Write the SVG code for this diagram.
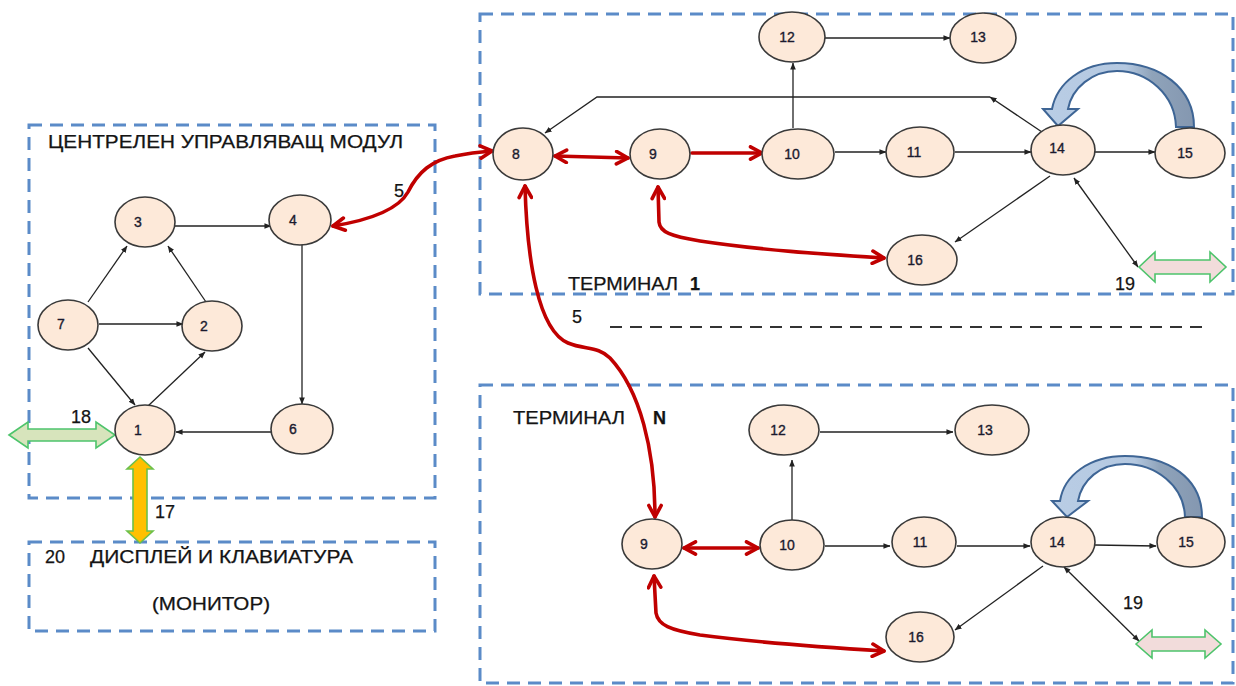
<svg xmlns="http://www.w3.org/2000/svg" width="1236" height="686" viewBox="0 0 1236 686">
<style>
.box{fill:none;stroke:#5B8BC8;stroke-width:3;stroke-dasharray:13 8}
.nd{fill:#FDE9D9;stroke:#3A3A3A;stroke-width:1.6}
.lb{font-family:"Liberation Sans",Arial,sans-serif;font-size:14px;fill:#1A1A2E;stroke:#1A1A2E;stroke-width:0.35;text-anchor:middle}
.t{font-family:"Liberation Sans",Arial,sans-serif;font-size:18px;fill:#141414;stroke:#141414;stroke-width:0.25}
.bk{fill:none;stroke:#222;stroke-width:1.3;marker-end:url(#blk)}
.rd{fill:none;stroke:#C00000;stroke-width:3.6;stroke-linecap:round}
</style>
<defs>
<marker id="blk" viewBox="0 0 8 8" refX="7.5" refY="4" markerWidth="7" markerHeight="7" markerUnits="userSpaceOnUse" orient="auto-start-reverse"><path d="M0,0.8 L8,4 L0,7.2 Z" fill="#222"/></marker>
<marker id="red" viewBox="0 0 16 16" refX="14" refY="8" markerWidth="16" markerHeight="16" markerUnits="userSpaceOnUse" orient="auto-start-reverse"><path d="M2.5,1.8 L14,8 L2.5,14.2" fill="none" stroke="#C00000" stroke-width="3.6" stroke-linecap="round" stroke-linejoin="round"/></marker>
<linearGradient id="bl" x1="0" y1="0" x2="1" y2="0"><stop offset="0" stop-color="#B9CDE5"/><stop offset="0.55" stop-color="#B4C8E0"/><stop offset="0.72" stop-color="#8FA3BA"/><stop offset="1" stop-color="#8497B0"/></linearGradient>
</defs>

<g id="boxes">
<rect class="box" x="29" y="125" width="406" height="373"/>
<rect class="box" x="29" y="542" width="406" height="89"/>
<rect class="box" x="480" y="14" width="753" height="280"/>
<rect class="box" x="480" y="385" width="753" height="298"/>
<line x1="610" y1="327" x2="1210" y2="327" stroke="#333" stroke-width="2" stroke-dasharray="12 8"/>
</g>

<g id="connectors">
<!-- central module -->
<line class="bk" x1="175" y1="226" x2="271" y2="226"/>
<line class="bk" x1="88" y1="302" x2="127" y2="246"/>
<line class="bk" x1="206" y1="302" x2="168" y2="246"/>
<line class="bk" x1="99" y1="324" x2="183" y2="324"/>
<line class="bk" x1="88" y1="348" x2="135" y2="405"/>
<line class="bk" x1="148" y1="406" x2="205" y2="352"/>
<line class="bk" x1="302" y1="245" x2="302" y2="404"/>
<line class="bk" x1="272" y1="432" x2="176" y2="432"/>
<!-- terminal 1 -->
<line class="bk" x1="793" y1="128" x2="793" y2="63"/>
<line class="bk" x1="822" y1="38" x2="950" y2="38"/>
<line class="bk" x1="835" y1="152" x2="886" y2="152"/>
<line class="bk" x1="955" y1="152" x2="1031" y2="152"/>
<line class="bk" x1="1095" y1="152" x2="1155" y2="152"/>
<line class="bk" x1="1042" y1="132" x2="990" y2="97"/>
<polyline class="bk" points="990,97 597,97 545,133"/>
<line class="bk" x1="1050" y1="176" x2="955" y2="242"/>
<line class="bk" x1="1074" y1="178" x2="1138" y2="267" marker-start="url(#blk)"/>
<!-- terminal N -->
<line class="bk" x1="792" y1="520" x2="792" y2="460"/>
<line class="bk" x1="820" y1="432" x2="953" y2="432"/>
<line class="bk" x1="825" y1="546" x2="890" y2="546"/>
<line class="bk" x1="957" y1="546" x2="1030" y2="546"/>
<line class="bk" x1="1095" y1="545" x2="1156" y2="546"/>
<line class="bk" x1="1043" y1="566" x2="955" y2="630"/>
<line class="bk" x1="1064" y1="567" x2="1139" y2="641" marker-start="url(#blk)"/>
<!-- red links -->
<path class="rd" d="M333,226 C370,220 398,210 408,192 C418,172 432,160 455,156 C470,153 480,152 492,151" marker-start="url(#red)" marker-end="url(#red)"/>
<path class="rd" d="M555,156 L628,158" marker-start="url(#red)" marker-end="url(#red)"/>
<path class="rd" d="M692,153 L762,153" marker-end="url(#red)"/>
<path class="rd" d="M658,187 L659,222 C660,232 670,236 700,241 C760,250 820,254 884,258" marker-start="url(#red)" marker-end="url(#red)"/>
<path class="rd" d="M525,186 C527,260 538,330 568,343 C585,350 598,346 610,358 C640,390 655,450 655,517" marker-start="url(#red)" marker-end="url(#red)"/>
<path class="rd" d="M684,548 L758,548" marker-start="url(#red)" marker-end="url(#red)"/>
<path class="rd" d="M654,576 L656,613 C658,625 670,630 700,635 C760,643 820,647 884,651" marker-start="url(#red)" marker-end="url(#red)"/>
<!-- block arrows -->
<path d="M9,435 L28,422 L28,429 L96,429 L96,422 L115,435 L96,448 L96,441 L28,441 L28,448 Z" fill="#D7E4BC" stroke="#4EC46C" stroke-width="1.6"/>
<path d="M140,457 L153,469 L147,469 L147,531 L153,531 L140,543 L127,531 L133,531 L133,469 L127,469 Z" fill="#FFC000" stroke="#6CC04A" stroke-width="1.6"/>
<path d="M1139,267 L1155,252 L1155,260 L1210,260 L1210,252 L1226,267 L1210,282 L1210,274 L1155,274 L1155,282 Z" fill="#F2DCDB" stroke="#4EC46C" stroke-width="1.6"/>
<path d="M1136,644 L1152,630 L1152,637 L1205,637 L1205,630 L1221,644 L1205,658 L1205,651 L1152,651 L1152,658 Z" fill="#F2DCDB" stroke="#4EC46C" stroke-width="1.6"/>
<path d="M1194,127 C1194,88 1160,63 1117,63 C1082,63 1057,83 1052,109 L1043,109 L1058,126 L1078,109 L1068,109 C1072,88 1092,71 1117,71 C1148,71 1175,95 1176,127 Z" fill="url(#bl)" stroke="#3E6595" stroke-width="2"/>
<path d="M1202,517 C1202,478 1168,456 1125,456 C1090,456 1064,475 1060,501 L1052,501 L1067,517 L1088,501 L1078,501 C1082,480 1100,464 1125,464 C1155,464 1184,485 1185,517 Z" fill="url(#bl)" stroke="#3E6595" stroke-width="2"/>
</g>

<g id="n3"><ellipse class="nd" cx="145" cy="222" rx="30" ry="25"/><text class="lb" x="138" y="227">3</text></g>
<g id="n4"><ellipse class="nd" cx="300" cy="220" rx="31" ry="25"/><text class="lb" x="293" y="225">4</text></g>
<g id="n7"><ellipse class="nd" cx="68" cy="325" rx="30" ry="25"/><text class="lb" x="61" y="329">7</text></g>
<g id="n2"><ellipse class="nd" cx="212" cy="326" rx="30" ry="25"/><text class="lb" x="204" y="331">2</text></g>
<g id="n1"><ellipse class="nd" cx="145" cy="430" rx="30" ry="25"/><text class="lb" x="138" y="435">1</text></g>
<g id="n6"><ellipse class="nd" cx="302" cy="429" rx="31" ry="25"/><text class="lb" x="293" y="434">6</text></g>

<g id="t1-12"><ellipse class="nd" cx="792" cy="37" rx="33" ry="25"/><text class="lb" x="787" y="42">12</text></g>
<g id="t1-13"><ellipse class="nd" cx="983" cy="38" rx="33" ry="25"/><text class="lb" x="978" y="42">13</text></g>
<g id="t1-8"><ellipse class="nd" cx="523" cy="154" rx="30" ry="26"/><text class="lb" x="516" y="159">8</text></g>
<g id="t1-9"><ellipse class="nd" cx="660" cy="154" rx="30" ry="25"/><text class="lb" x="653" y="159">9</text></g>
<g id="t1-10"><ellipse class="nd" cx="798" cy="154" rx="36" ry="25"/><text class="lb" x="792" y="159">10</text></g>
<g id="t1-11"><ellipse class="nd" cx="920" cy="152" rx="34" ry="25"/><text class="lb" x="914" y="157">11</text></g>
<g id="t1-14"><ellipse class="nd" cx="1063" cy="150" rx="32" ry="25"/><text class="lb" x="1057" y="153">14</text></g>
<g id="t1-15"><ellipse class="nd" cx="1190" cy="153" rx="35" ry="25"/><text class="lb" x="1185" y="158">15</text></g>
<g id="t1-16"><ellipse class="nd" cx="922" cy="260" rx="35" ry="25"/><text class="lb" x="915" y="265">16</text></g>

<g id="tn-12"><ellipse class="nd" cx="784" cy="430" rx="35" ry="25"/><text class="lb" x="778" y="435">12</text></g>
<g id="tn-13"><ellipse class="nd" cx="992" cy="430" rx="37" ry="25"/><text class="lb" x="985" y="435">13</text></g>
<g id="tn-9"><ellipse class="nd" cx="652" cy="544" rx="30" ry="25"/><text class="lb" x="644" y="549">9</text></g>
<g id="tn-10"><ellipse class="nd" cx="792" cy="545" rx="32" ry="25"/><text class="lb" x="787" y="550">10</text></g>
<g id="tn-11"><ellipse class="nd" cx="924" cy="542" rx="32" ry="25"/><text class="lb" x="920" y="547">11</text></g>
<g id="tn-14"><ellipse class="nd" cx="1063" cy="542" rx="32" ry="25"/><text class="lb" x="1057" y="547">14</text></g>
<g id="tn-15"><ellipse class="nd" cx="1191" cy="542" rx="34" ry="25"/><text class="lb" x="1186" y="547">15</text></g>
<g id="tn-16"><ellipse class="nd" cx="920" cy="637" rx="34" ry="25"/><text class="lb" x="916" y="642">16</text></g>

<g id="labels">
<text class="t" x="48" y="148" textLength="355" lengthAdjust="spacingAndGlyphs">ЦЕНТРЕЛЕН УПРАВЛЯВАЩ МОДУЛ</text>
<text class="t" x="568" y="290" textLength="110" lengthAdjust="spacingAndGlyphs">ТЕРМИНАЛ</text>
<text class="t" x="690" y="290" font-weight="bold">1</text>
<text class="t" x="513" y="424" textLength="112" lengthAdjust="spacingAndGlyphs">ТЕРМИНАЛ</text>
<text class="t" x="653" y="424" font-weight="bold">N</text>
<text class="t" x="45" y="563">20</text>
<text class="t" x="90" y="563" textLength="263" lengthAdjust="spacingAndGlyphs">ДИСПЛЕЙ И КЛАВИАТУРА</text>
<text class="t" x="152" y="610" textLength="118" lengthAdjust="spacingAndGlyphs">(МОНИТОР)</text>
<text class="t" x="394" y="197" font-size="17">5</text>
<text class="t" x="572" y="323" font-size="17">5</text>
<text class="t" x="71" y="423">18</text>
<text class="t" x="155" y="518" font-size="16">17</text>
<text class="t" x="1115" y="290" font-size="14">19</text>
<text class="t" x="1123" y="609" font-size="14">19</text>
</g>
</svg>
